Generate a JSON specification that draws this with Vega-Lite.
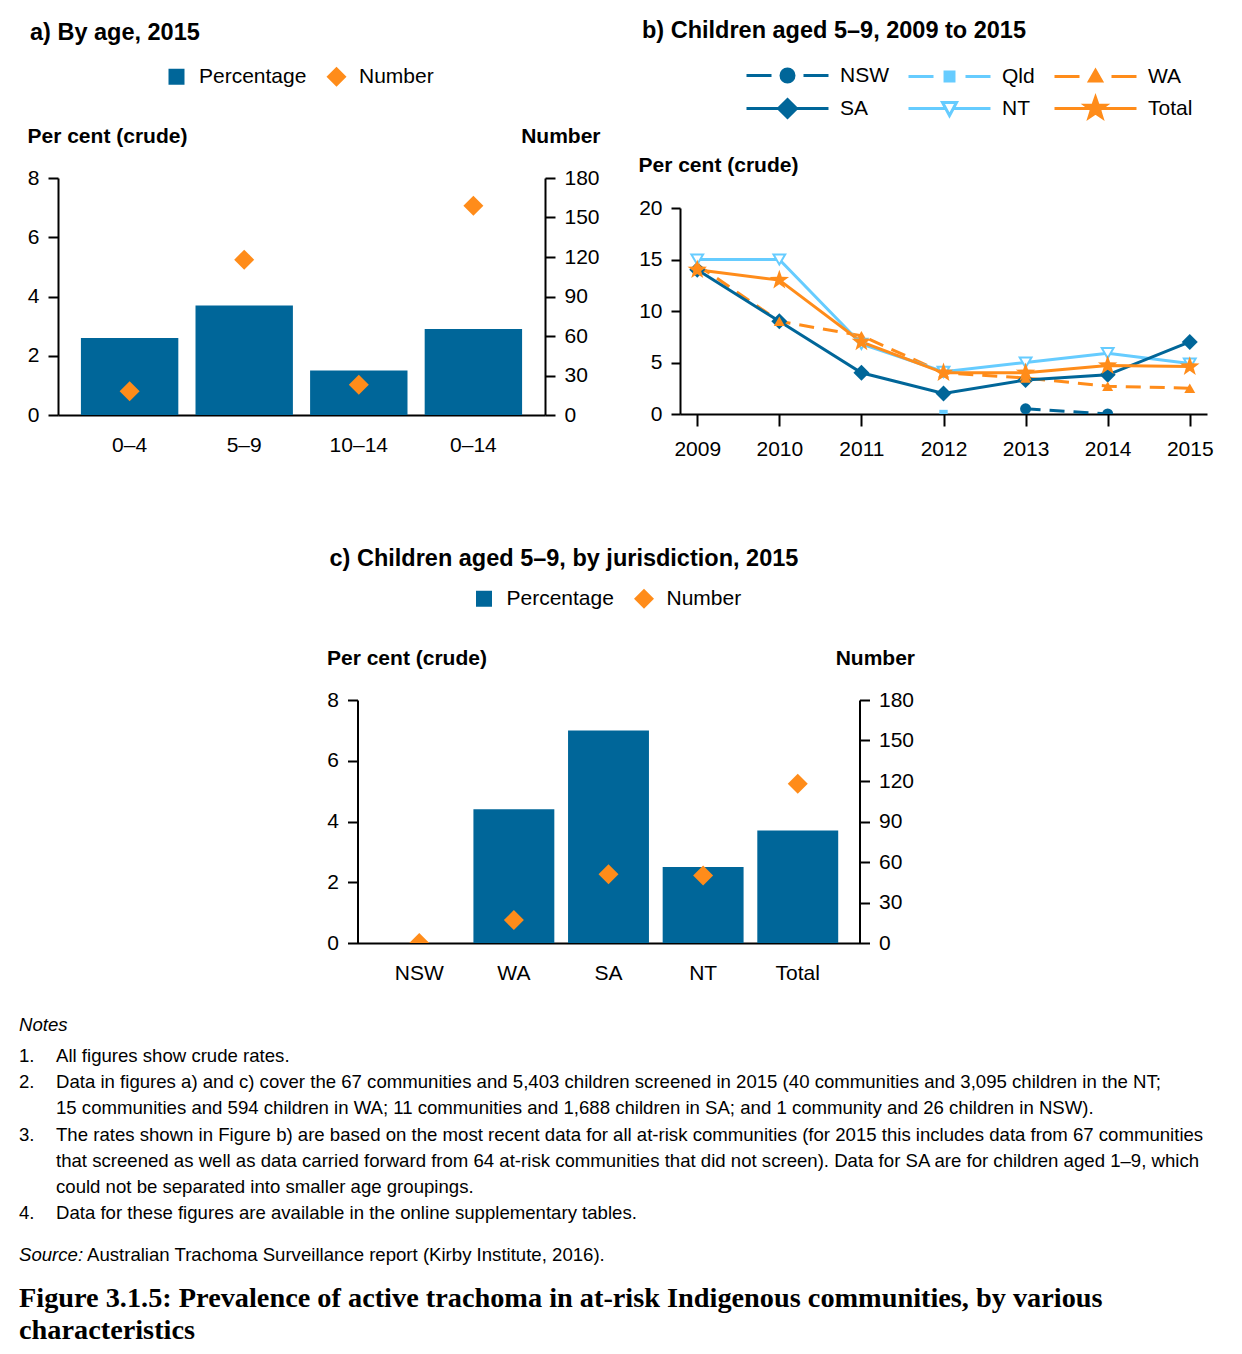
{
  "$schema": "https://vega.github.io/schema/vega-lite/v6.json",
  "background": "white",
  "padding": {"left": 19, "top": 18, "right": 0, "bottom": 0},
  "datasets": {
    "byAge": [
      {"age": "0–4", "pct": 2.6, "num": 18},
      {"age": "5–9", "pct": 3.7, "num": 118},
      {"age": "10–14", "pct": 1.5, "num": 23},
      {"age": "0–14", "pct": 2.9, "num": 159}
    ],
    "byJur": [
      {"jur": "NSW", "pct": 0, "num": 0},
      {"jur": "WA", "pct": 4.4, "num": 17},
      {"jur": "SA", "pct": 7.0, "num": 51},
      {"jur": "NT", "pct": 2.5, "num": 50},
      {"jur": "Total", "pct": 3.7, "num": 118}
    ],
    "trend": [
      {"series": "NT", "year": "2009", "value": 15.0},
      {"series": "NT", "year": "2010", "value": 15.0},
      {"series": "NT", "year": "2011", "value": 6.8},
      {"series": "NT", "year": "2012", "value": 4.1},
      {"series": "NT", "year": "2013", "value": 5.0},
      {"series": "NT", "year": "2014", "value": 5.9},
      {"series": "NT", "year": "2015", "value": 4.9},
      {"series": "SA", "year": "2009", "value": 14.0},
      {"series": "SA", "year": "2010", "value": 9.0},
      {"series": "SA", "year": "2011", "value": 4.0},
      {"series": "SA", "year": "2012", "value": 2.0},
      {"series": "SA", "year": "2013", "value": 3.3},
      {"series": "SA", "year": "2014", "value": 3.8},
      {"series": "SA", "year": "2015", "value": 7.0},
      {"series": "WA", "year": "2009", "value": 14.5},
      {"series": "WA", "year": "2010", "value": 9.0},
      {"series": "WA", "year": "2011", "value": 7.6},
      {"series": "WA", "year": "2012", "value": 4.0},
      {"series": "WA", "year": "2013", "value": 3.5},
      {"series": "WA", "year": "2014", "value": 2.7},
      {"series": "WA", "year": "2015", "value": 2.5},
      {"series": "Total", "year": "2009", "value": 14.0},
      {"series": "Total", "year": "2010", "value": 13.0},
      {"series": "Total", "year": "2011", "value": 7.0},
      {"series": "Total", "year": "2012", "value": 4.0},
      {"series": "Total", "year": "2013", "value": 4.0},
      {"series": "Total", "year": "2014", "value": 4.7},
      {"series": "Total", "year": "2015", "value": 4.6},
      {"series": "NSW", "year": "2013", "value": 0.5},
      {"series": "NSW", "year": "2014", "value": 0.0},
      {"series": "Qld", "year": "2012", "value": 0.0}
    ],
    "heading": [{"t": "Notes"}],
    "notes": [
      {"line": 1, "num": "1.", "text": "All figures show crude rates."},
      {"line": 2, "num": "2.", "text": "Data in figures a) and c) cover the 67 communities and 5,403 children screened in 2015 (40 communities and 3,095 children in the NT;"},
      {"line": 3, "num": "", "text": "15 communities and 594 children in WA; 11 communities and 1,688 children in SA; and 1 community and 26 children in NSW)."},
      {"line": 4, "num": "3.", "text": "The rates shown in Figure b) are based on the most recent data for all at-risk communities (for 2015 this includes data from 67 communities"},
      {"line": 5, "num": "", "text": "that screened as well as data carried forward from 64 at-risk communities that did not screen). Data for SA are for children aged 1–9, which"},
      {"line": 6, "num": "", "text": "could not be separated into smaller age groupings."},
      {"line": 7, "num": "4.", "text": "Data for these figures are available in the online supplementary tables."}
    ],
    "source": [{"label": "Source:", "text": "Australian Trachoma Surveillance report (Kirby Institute, 2016)."}],
    "caption": [
      {"line": 1, "text": "Figure 3.1.5: Prevalence of active trachoma in at-risk Indigenous communities, by various"},
      {"line": 2, "text": "characteristics"}
    ]
  },
  "vconcat": [
    {
      "hconcat": [
        {
          "width": 487,
          "height": 237,
          "title": {"text": "a) By age, 2015", "anchor": "start", "frame": "group", "dx": -28, "offset": 22, "fontSize": 23.5, "fontWeight": "bold", "color": "black"},
          "data": {"name": "byAge"},
          "layer": [
            {
              "mark": {"type": "bar"},
              "encoding": {
                "x": {"field": "age", "type": "nominal", "sort": null, "scale": {"paddingInner": 0.15, "paddingOuter": 0.2},
                  "axis": {"title": "\u00a0", "titleFontSize": 21, "titlePadding": 13, "labelAngle": 0, "labelFontSize": 21, "labelPadding": 19, "ticks": false, "domainWidth": 2}},
                "y": {"field": "pct", "type": "quantitative", "scale": {"domain": [0, 8], "nice": false},
                  "axis": {"values": [0, 2, 4, 6, 8], "title": "Per cent (crude)", "titleAngle": 0, "titleAlign": "left", "titleBaseline": "alphabetic", "titleX": -31, "titleY": -36, "titleFontSize": 21, "titleFontWeight": "bold", "tickSize": 10, "tickWidth": 2, "domainWidth": 2, "labelFontSize": 21, "labelPadding": 9}},
                "color": {"datum": "Percentage", "type": "nominal", "scale": {"domain": ["Percentage", "Number"], "range": ["#006699", "#ff8c1a"]},
                  "legend": {"orient": "none", "legendX": 108, "legendY": -112, "direction": "horizontal", "title": null, "labelFontSize": 21, "symbolSize": 400, "labelOffset": 12, "columnPadding": 19, "symbolStrokeWidth": 0,
                    "encode": {"symbols": {"update": {"shape": {"signal": "datum.value === 'Number' ? 'diamond' : 'square'"}, "size": {"signal": "datum.value === 'Number' ? 400 : 256"}}}}}}
              }
            },
            {
              "mark": {"type": "point", "shape": "diamond", "filled": true, "size": 400, "opacity": 1, "clip": true},
              "encoding": {
                "x": {"field": "age", "type": "nominal", "sort": null},
                "y": {"field": "num", "type": "quantitative", "scale": {"domain": [0, 180], "nice": false},
                  "axis": {"orient": "right", "values": [0, 30, 60, 90, 120, 150, 180], "title": "Number", "titleAngle": 0, "titleAlign": "right", "titleBaseline": "alphabetic", "titleX": 55, "titleY": -36, "titleFontSize": 21, "titleFontWeight": "bold", "tickSize": 10, "tickWidth": 2, "domainWidth": 2, "labelFontSize": 21, "labelPadding": 9}},
                "color": {"datum": "Number", "type": "nominal", "scale": {"domain": ["Percentage", "Number"], "range": ["#006699", "#ff8c1a"]}}
              }
            }
          ],
          "resolve": {"scale": {"y": "independent"}, "axis": {"y": "independent"}}
        },
        {
          "width": 527,
          "height": 206,
          "title": {"text": "b) Children aged 5–9, 2009 to 2015", "anchor": "start", "frame": "group", "dx": -38, "offset": 18, "fontSize": 23.5, "fontWeight": "bold", "color": "black"},
          "data": {"name": "trend"},
          "encoding": {
            "x": {"field": "year", "type": "ordinal", "scale": {"type": "point", "padding": 0.21},
              "axis": {"title": null, "labelAngle": 0, "labelFontSize": 21, "labelPadding": 12, "tickSize": 12, "tickWidth": 2, "domainWidth": 2}},
            "y": {"field": "value", "type": "quantitative", "scale": {"domain": [0, 20], "nice": false},
              "axis": {"values": [0, 5, 10, 15, 20], "title": "Per cent (crude)", "titleAngle": 0, "titleAlign": "left", "titleBaseline": "alphabetic", "titleX": -42, "titleY": -37, "titleFontSize": 21, "titleFontWeight": "bold", "tickSize": 9, "tickWidth": 2, "domainWidth": 2, "labelFontSize": 21, "labelPadding": 9}}
          },
          "layer": [
            {
              "transform": [{"filter": "datum.series === 'NSW' || datum.series === 'Qld' || datum.series === 'WA'"}],
              "mark": {"type": "line", "strokeWidth": 3, "strokeDash": [15, 9], "clip": true},
              "encoding": {
                "color": {"field": "series", "type": "nominal",
                  "scale": {"domain": ["NSW", "Qld", "WA", "SA", "NT", "Total"], "range": ["#006699", "#66ccff", "#ff8c1a", "#006699", "#66ccff", "#ff8c1a"]},
                  "legend": {"orient": "none", "legendX": 65, "legendY": -148, "columns": 3, "direction": "horizontal", "title": null, "labelFontSize": 21, "labelOffset": 64, "symbolSize": 784, "symbolStrokeWidth": 3, "columnPadding": 13, "rowPadding": 3,
                    "encode": {"symbols": {"update": {
                      "shape": {"signal": "datum.value === 'NSW' ? 'M-1,0H0.786M3.071,0H4.857M2.393,0A0.464,0.464 0 1,1 1.465,0A0.464,0.464 0 1,1 2.393,0Z' : datum.value === 'Qld' ? 'M-1,0H0.786M3.071,0H4.857M1.609,-0.32H2.249V0.32H1.609Z' : datum.value === 'WA' ? 'M-1,0H0.786M3.071,0H4.857M1.929,-0.43L2.359,0.32H1.499Z' : datum.value === 'SA' ? 'M-1,0H4.857M1.929,-0.643L2.572,0L1.929,0.643L1.286,0Z' : datum.value === 'NT' ? 'M-1,0H1.66M2.198,0H4.857M1.429,-0.43H2.429L1.929,0.5Z' : 'M-1,0H4.857M1.929,-0.786L2.114,-0.254L2.677,-0.243L2.228,0.097L2.391,0.636L1.929,0.314L1.467,0.636L1.63,0.097L1.181,-0.243L1.744,-0.254Z'"},
                      "fill": {"signal": "datum.value === 'NT' ? '#ffffff' : (datum.value === 'Qld' ? '#66ccff' : ((datum.value === 'WA' || datum.value === 'Total') ? '#ff8c1a' : '#006699'))"},
                      "stroke": {"signal": "(datum.value === 'NSW' || datum.value === 'SA') ? '#006699' : ((datum.value === 'Qld' || datum.value === 'NT') ? '#66ccff' : '#ff8c1a')"},
                      "strokeWidth": {"value": 3},
                      "size": {"value": 784}
                    }}}}}
              }
            },
            {
              "transform": [{"filter": "datum.series === 'SA' || datum.series === 'NT' || datum.series === 'Total'"}],
              "mark": {"type": "line", "strokeWidth": 3, "clip": true},
              "encoding": {
                "color": {"field": "series", "type": "nominal",
                  "scale": {"domain": ["NSW", "Qld", "WA", "SA", "NT", "Total"], "range": ["#006699", "#66ccff", "#ff8c1a", "#006699", "#66ccff", "#ff8c1a"]}}
              }
            },
            {"transform": [{"filter": "datum.series === 'NSW'"}], "mark": {"type": "point", "shape": "circle", "filled": true, "color": "#006699", "size": 121, "opacity": 1, "clip": true}},
            {"transform": [{"filter": "datum.series === 'Qld'"}], "mark": {"type": "point", "shape": "square", "filled": true, "color": "#66ccff", "size": 70, "opacity": 1, "clip": true}},
            {"transform": [{"filter": "datum.series === 'SA'"}], "mark": {"type": "point", "shape": "diamond", "filled": true, "color": "#006699", "size": 256, "opacity": 1, "clip": true}},
            {"transform": [{"filter": "datum.series === 'WA'"}], "mark": {"type": "point", "shape": "triangle-up", "filled": true, "color": "#ff8c1a", "size": 120, "opacity": 1, "clip": true}},
            {"transform": [{"filter": "datum.series === 'NT'"}], "mark": {"type": "point", "shape": "triangle-down", "filled": false, "fill": "#ffffff", "stroke": "#66ccff", "strokeWidth": 2, "size": 140, "opacity": 1, "fillOpacity": 1, "clip": true}},
            {"transform": [{"filter": "datum.series === 'Total'"}], "mark": {"type": "point", "shape": "M0,-1L0.235,-0.324L0.951,-0.309L0.38,0.124L0.588,0.809L0,0.4L-0.588,0.809L-0.38,0.124L-0.951,-0.309L-0.235,-0.324Z", "filled": true, "color": "#ff8c1a", "size": 420, "opacity": 1, "clip": true}}
          ]
        }
      ],
      "spacing": 38,
      "center": true,
      "resolve": {
        "scale": {"color": "independent"},
        "legend": {"color": "independent"}
      }
    },
    {
      "vconcat": [
        {
          "width": 502,
          "height": 243,
          "title": {"text": "c) Children aged 5–9, by jurisdiction, 2015", "anchor": "start", "frame": "group", "dx": -28, "offset": 18, "fontSize": 23.5, "fontWeight": "bold", "color": "black"},
          "data": {"name": "byJur"},
          "layer": [
            {
              "mark": {"type": "bar"},
              "encoding": {
                "x": {"field": "jur", "type": "nominal", "sort": null, "scale": {"paddingInner": 0.145, "paddingOuter": 0.225},
                  "axis": {"title": null, "labelAngle": 0, "labelFontSize": 21, "labelPadding": 19, "ticks": false, "domainWidth": 2}},
                "y": {"field": "pct", "type": "quantitative", "scale": {"domain": [0, 8], "nice": false},
                  "axis": {"values": [0, 2, 4, 6, 8], "title": "Per cent (crude)", "titleAngle": 0, "titleAlign": "left", "titleBaseline": "alphabetic", "titleX": -31, "titleY": -36, "titleFontSize": 21, "titleFontWeight": "bold", "tickSize": 10, "tickWidth": 2, "domainWidth": 2, "labelFontSize": 21, "labelPadding": 9}},
                "color": {"datum": "Percentage", "type": "nominal", "scale": {"domain": ["Percentage", "Number"], "range": ["#006699", "#ff8c1a"]},
                  "legend": {"orient": "none", "legendX": 116, "legendY": -112, "direction": "horizontal", "title": null, "labelFontSize": 21, "symbolSize": 400, "labelOffset": 12, "columnPadding": 19, "symbolStrokeWidth": 0,
                    "encode": {"symbols": {"update": {"shape": {"signal": "datum.value === 'Number' ? 'diamond' : 'square'"}, "size": {"signal": "datum.value === 'Number' ? 400 : 256"}}}}}}
              }
            },
            {
              "mark": {"type": "point", "shape": "diamond", "filled": true, "size": 400, "opacity": 1, "clip": true},
              "encoding": {
                "x": {"field": "jur", "type": "nominal", "sort": null},
                "y": {"field": "num", "type": "quantitative", "scale": {"domain": [0, 180], "nice": false},
                  "axis": {"orient": "right", "values": [0, 30, 60, 90, 120, 150, 180], "title": "Number", "titleAngle": 0, "titleAlign": "right", "titleBaseline": "alphabetic", "titleX": 55, "titleY": -36, "titleFontSize": 21, "titleFontWeight": "bold", "tickSize": 10, "tickWidth": 2, "domainWidth": 2, "labelFontSize": 21, "labelPadding": 9}},
                "color": {"datum": "Number", "type": "nominal", "scale": {"domain": ["Percentage", "Number"], "range": ["#006699", "#ff8c1a"]}}
              }
            }
          ],
          "resolve": {"scale": {"y": "independent"}, "axis": {"y": "independent"}}
        },
        {
          "vconcat": [
            {
              "width": 1156,
              "height": 37,
              "data": {"name": "heading"},
              "mark": {"type": "text", "align": "left", "baseline": "middle", "fontSize": 18.6, "fontStyle": "italic", "color": "black", "dx": -39},
              "encoding": {
                "text": {"field": "t"},
                "x": {"datum": 0, "type": "quantitative", "scale": {"domain": [0, 1]}, "axis": null},
                "y": {"datum": 0.5, "type": "quantitative", "scale": {"domain": [0, 1]}, "axis": null}
              }
            },
            {
              "width": 1156,
              "height": 183,
              "data": {"name": "notes"},
              "encoding": {
                "x": {"datum": 0, "type": "quantitative", "scale": {"domain": [0, 1]}, "axis": null},
                "y": {"field": "line", "type": "ordinal", "scale": {"type": "point", "padding": 0.5}, "axis": null}
              },
              "layer": [
                {"mark": {"type": "text", "align": "left", "baseline": "middle", "fontSize": 18.6, "color": "black", "dx": -39}, "encoding": {"text": {"field": "num"}}},
                {"mark": {"type": "text", "align": "left", "baseline": "middle", "fontSize": 18.6, "color": "black", "dx": -2}, "encoding": {"text": {"field": "text"}}}
              ]
            },
            {
              "width": 1156,
              "height": 57,
              "data": {"name": "source"},
              "encoding": {
                "x": {"datum": 0, "type": "quantitative", "scale": {"domain": [0, 1]}, "axis": null},
                "y": {"datum": 0.5, "type": "quantitative", "scale": {"domain": [0, 1]}, "axis": null}
              },
              "layer": [
                {"mark": {"type": "text", "align": "left", "baseline": "middle", "fontSize": 18.6, "fontStyle": "italic", "color": "black", "dx": -39}, "encoding": {"text": {"field": "label"}}},
                {"mark": {"type": "text", "align": "left", "baseline": "middle", "fontSize": 18.6, "color": "black", "dx": 29}, "encoding": {"text": {"field": "text"}}}
              ]
            },
            {
              "width": 1156,
              "height": 64,
              "data": {"name": "caption"},
              "mark": {"type": "text", "align": "left", "baseline": "middle", "font": "Liberation Serif", "fontSize": 28.3, "fontWeight": "bold", "color": "black", "dx": -39},
              "encoding": {
                "text": {"field": "text"},
                "x": {"datum": 0, "type": "quantitative", "scale": {"domain": [0, 1]}, "axis": null},
                "y": {"field": "line", "type": "ordinal", "scale": {"type": "point", "padding": 0.5}, "axis": null}
              }
            }
          ],
          "spacing": 0
        }
      ],
      "spacing": 23,
      "center": true,
      "resolve": {
        "scale": {"color": "independent"},
        "legend": {"color": "independent"}
      }
    }
  ],
  "spacing": 57,
  "resolve": {
    "scale": {"color": "independent"},
    "legend": {"color": "independent"}
  },
  "config": {
    "font": "Liberation Sans",
    "view": {"stroke": null},
    "axis": {"labelColor": "black", "titleColor": "black", "domainColor": "black", "tickColor": "black", "grid": false, "labelFont": "Liberation Sans", "titleFont": "Liberation Sans"},
    "legend": {"labelColor": "black", "labelFont": "Liberation Sans"},
    "title": {"color": "black", "font": "Liberation Sans"}
  }
}
